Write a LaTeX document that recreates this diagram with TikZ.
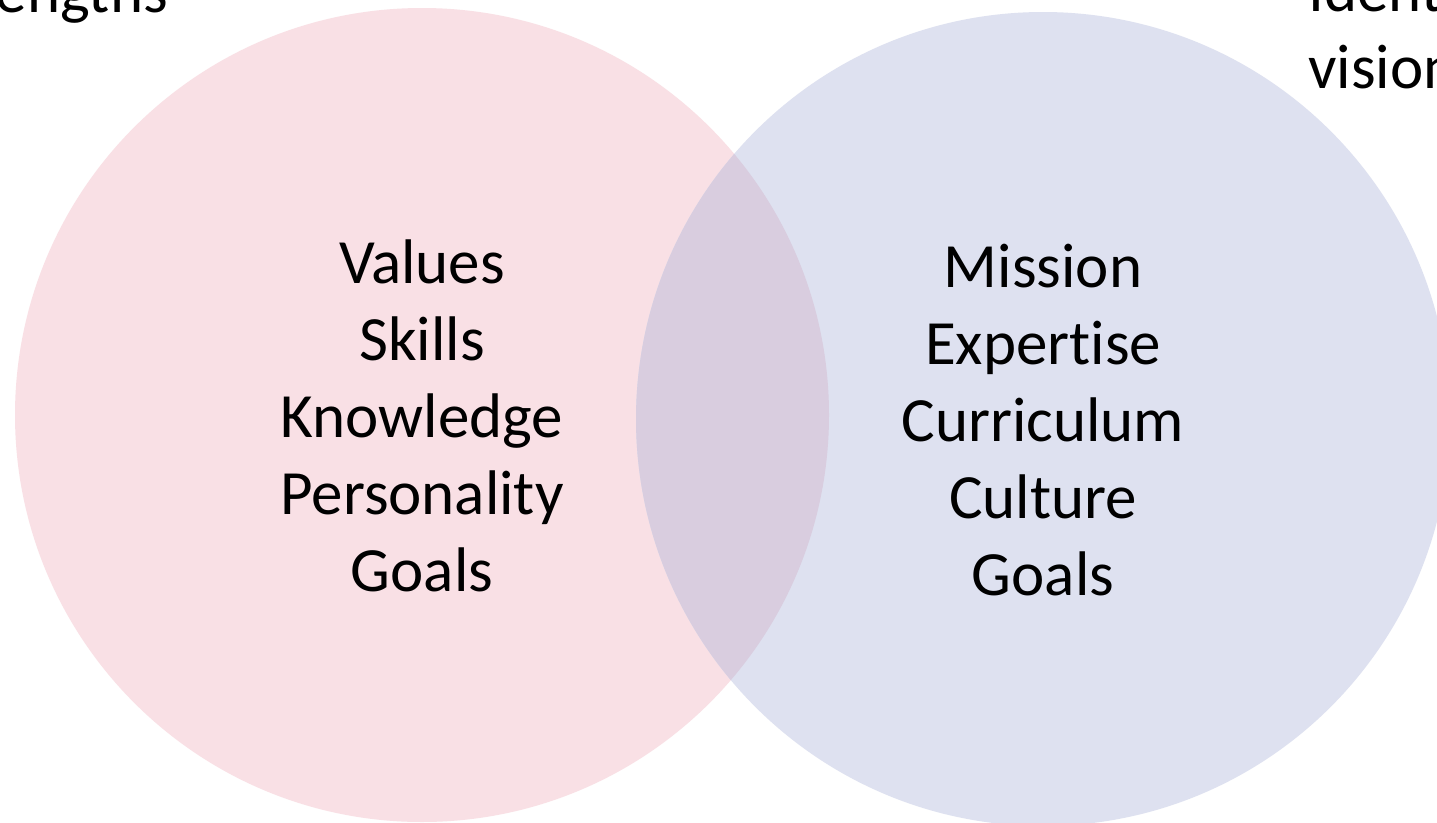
\documentclass[tikz,border=0pt]{standalone}
\usepackage{fontspec}
\setmainfont[RawFeature={-liga;-clig}]{Carlito}
\definecolor{pinkfill}{HTML}{F9E0E5}
\definecolor{bluefill}{HTML}{DEE1F0}
\definecolor{mixfill}{HTML}{D9CDDF}
\tikzset{
  item/.style={anchor=base, inner sep=0pt, font=\fontsize{63}{77}\selectfont, text=black},
  corner/.style={inner sep=0pt, font=\fontsize{63}{77}\selectfont, text=black}
}
\begin{document}
\begin{tikzpicture}[x=1pt,y=-1pt]
\path[use as bounding box, clip] (0,0) rectangle (1437,822);
\fill[white] (0,0) rectangle (1437,822);
\coordinate (lc) at (422,415);
\coordinate (rc) at (1043,419);
\fill[pinkfill] (lc) circle[radius=407pt];
\fill[bluefill] (rc) circle[radius=407pt];
\begin{scope}
\clip (rc) circle[radius=407pt];
\fill[mixfill] (lc) circle[radius=407pt];
\end{scope}
% left list
\node[item] (l1) at (422,283) {Values};
\node[item] (l2) at (422,360) {Skills};
\node[item] (l3) at (422,437) {Knowledge};
\node[item] (l4) at (422,514) {Personality};
\node[item] (l5) at (422,591) {Goals};
% right list
\node[item] (r1) at (1043,287) {Mission};
\node[item] (r2) at (1043,364) {Expertise};
\node[item] (r3) at (1043,441) {Curriculum};
\node[item] (r4) at (1043,518) {Culture};
\node[item] (r5) at (1043,595) {Goals};
% corner texts (cut off by the page edge, as in the reference)
\node[corner, anchor=base east] (tl) at (168,12) {engths};
\node[corner, anchor=base west] (tr1) at (1308,11) {Identity};
\node[corner, anchor=base west] (tr2) at (1308,88) {vision};
\end{tikzpicture}
\end{document}
